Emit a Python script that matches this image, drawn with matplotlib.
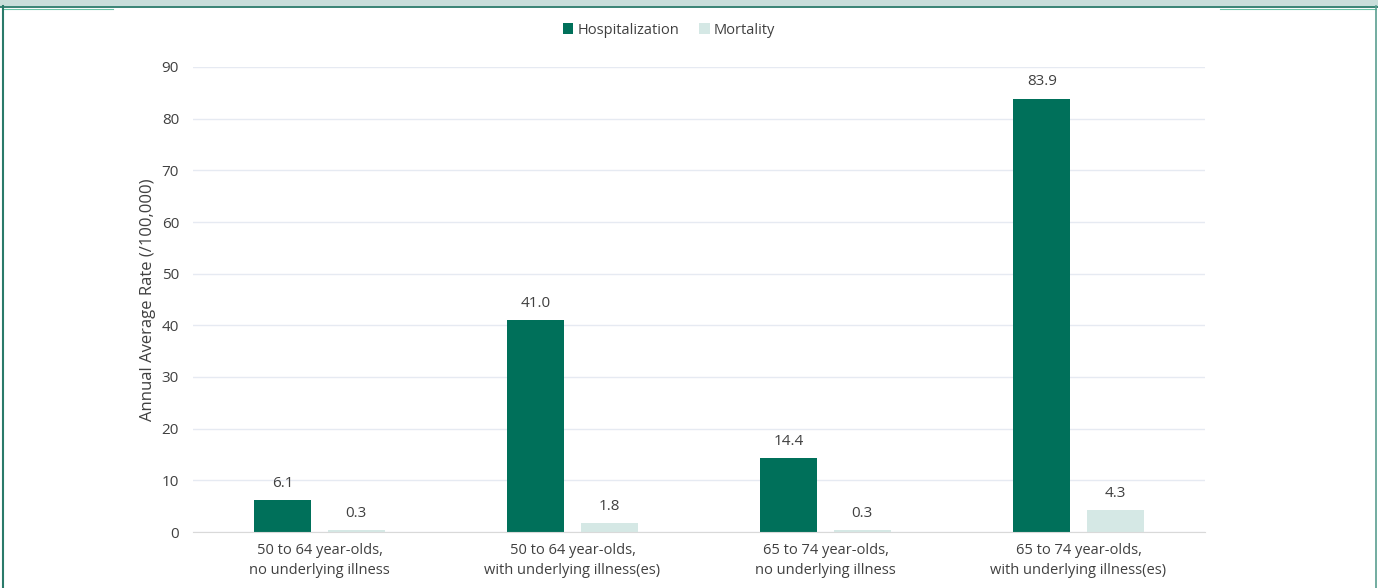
import matplotlib
matplotlib.use("Agg")
import matplotlib.pyplot as plt
import numpy as np
from matplotlib.patches import Rectangle
from matplotlib.lines import Line2D

categories = ["50 to 64 year-olds,\nno underlying illness",
              "50 to 64 year-olds,\nwith underlying illness(es)",
              "65 to 74 year-olds,\nno underlying illness",
              "65 to 74 year-olds,\nwith underlying illness(es)"]
hospitalization = [6.1, 41.0, 14.4, 83.9]
mortality = [0.3, 1.8, 0.3, 4.3]
series_names = ["Hospitalization", "Mortality"]
yticks = [0, 10, 20, 30, 40, 50, 60, 70, 80, 90]

plt.rcParams['font.family'] = ['Open Sans', 'DejaVu Sans']
HOSP = "#00705a"
MORT = "#d5e8e5"
TXT = "#404040"

W, H = 1378, 588
fig = plt.figure(figsize=(W/100, H/100), dpi=100)
ax = fig.add_axes([193/W, 1-532/H, (1205-193)/W, (532-67)/H])

x = np.arange(len(categories))
bw = 0.225
off = 0.145
b1 = ax.bar(x - off, hospitalization, bw, color=HOSP, label=series_names[0], zorder=3)
b2 = ax.bar(x + off, mortality, bw, color=MORT, label=series_names[1], zorder=3)
for bars, vals in ((b1, hospitalization), (b2, mortality)):
    for rect, v in zip(bars, vals):
        ax.annotate(f"{v:.1f}", (rect.get_x() + rect.get_width()/2, v),
                    xytext=(0, 6.5), textcoords="offset points",
                    ha="center", va="bottom", fontsize=11, color=TXT)

ax.set_xlim(-0.5, len(categories) - 0.5)
ax.set_ylim(0, 90)
ax.set_yticks(yticks)
ax.set_yticklabels([str(t) for t in yticks])
ax.set_xticks(x)
ax.set_xticklabels(categories, fontsize=10.5, color=TXT, linespacing=1.45)
ax.tick_params(axis='y', length=0, pad=10, labelsize=11, labelcolor=TXT)
ax.tick_params(axis='x', length=0, pad=8)
ax.grid(axis='y', color="#e6eaf2", linewidth=1, zorder=0)
for s in ("top", "right", "left"):
    ax.spines[s].set_visible(False)
ax.spines["bottom"].set_color("#d9d9d9")
ax.spines["bottom"].set_zorder(4)
ax.set_ylabel("Annual Average Rate (/100,000)", fontsize=12, color=TXT, labelpad=4)

leg = fig.legend(loc="center", bbox_to_anchor=(669/W, 1-30/H), ncol=2, frameon=False,
                 fontsize=10.5, handlelength=0.7, handleheight=0.7, handletextpad=0.3,
                 columnspacing=1.4)
for t in leg.get_texts():
    t.set_color(TXT)

# decorative frame
fig.patches.append(Rectangle((0, 1-6/H), 1, 6/H, transform=fig.transFigure,
                             facecolor="#c9dedb", edgecolor="none", zorder=0))
fig.lines.append(Line2D([0, 1], [1-7/H, 1-7/H], transform=fig.transFigure, color="#2a7a6a", lw=1.3))
fig.lines.append(Line2D([3/W, 113/W], [1-8.5/H, 1-8.5/H], transform=fig.transFigure, color="#6cc5a8", lw=0.8))
fig.lines.append(Line2D([1220/W, 1376/W], [1-8.5/H, 1-8.5/H], transform=fig.transFigure, color="#6cc5a8", lw=0.8))
fig.lines.append(Line2D([2.5/W, 2.5/W], [0, 1-6/H], transform=fig.transFigure, color="#2a7a6a", lw=1.5))
fig.lines.append(Line2D([1376/W, 1376/W], [0, 1-6/H], transform=fig.transFigure, color="#5a9e90", lw=1.2))

fig.savefig("out.png", dpi=100)
